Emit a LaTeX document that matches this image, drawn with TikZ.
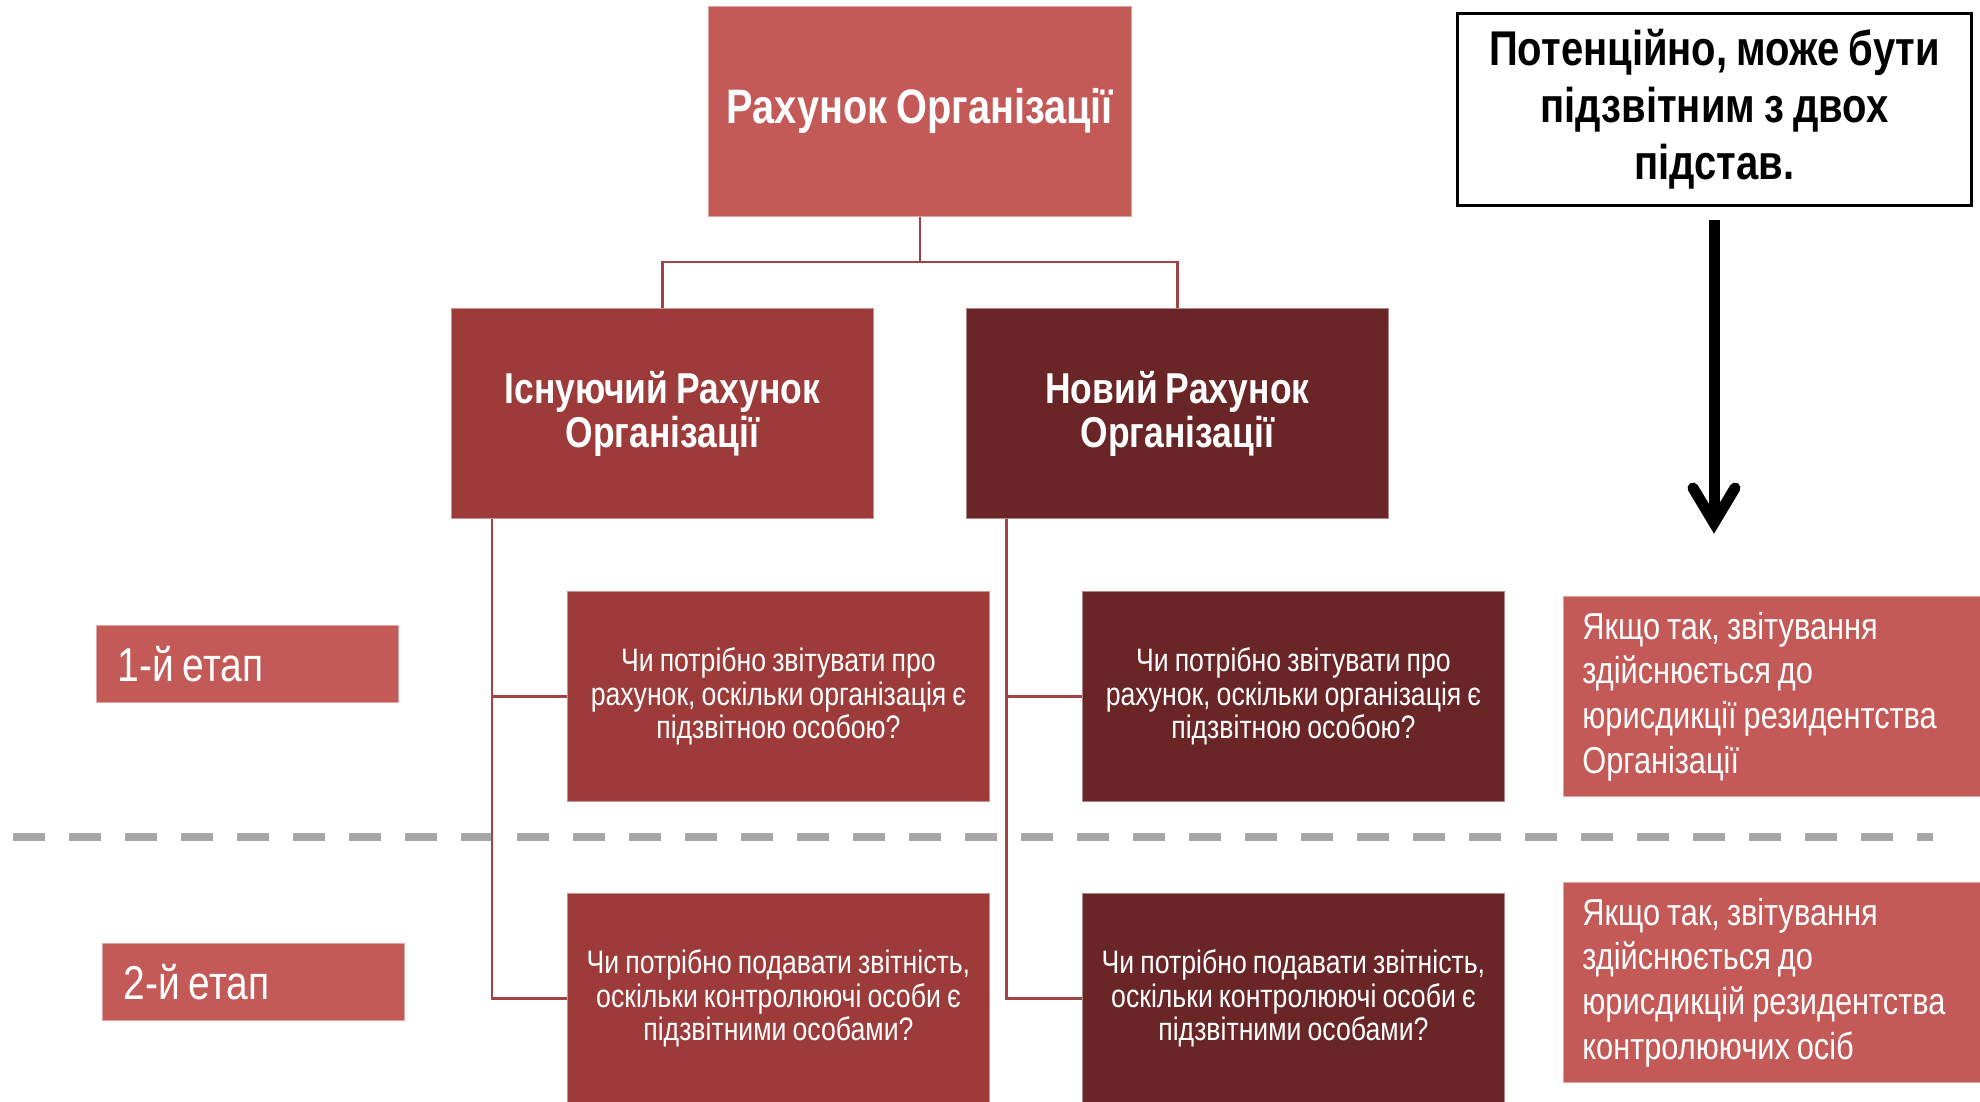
\documentclass[tikz,border=0pt]{standalone}
\usepackage{fontspec}
\setmainfont{Liberation Sans}[FakeStretch=0.82, WordSpace=0.82]
\definecolor{cTop}{HTML}{C45A57}
\definecolor{cMidL}{HTML}{9D3A3A}
\definecolor{cMidR}{HTML}{6A2526}
\definecolor{cLine}{HTML}{A04444}
\definecolor{cDash}{HTML}{A6A6A6}
\tikzset{
  box/.style={anchor=north west, inner sep=0pt, text=white, align=center,
    draw=#1!55!white, line width=0.8pt, fill=#1},
  bigbold/.style={font=\fontsize{48.4}{52}\selectfont\bfseries},
  midbold/.style={font=\fontsize{43.2}{44}\selectfont\bfseries},
  qtext/.style={font=\fontsize{32.5}{33.5}\selectfont},
  answer/.style={box=cTop, align=flush left, inner xsep=19pt, text width=382pt,
    minimum height=200pt, font=\fontsize{37.5}{44.6}\selectfont},
  stagebox/.style={box=cTop, align=flush left, inner xsep=21pt, text width=260pt,
    minimum height=77pt, font=\fontsize{47.5}{52}\selectfont},
  conn/.style={draw=cLine, line width=2.4pt},
}
\begin{document}
\begin{tikzpicture}[x=1pt,y=-1pt]
\useasboundingbox (0,0) rectangle (1980,1101);
\fill[white] (0,0) rectangle (1980,1101);

% dashed separator
\draw[cDash, line width=8pt, dash pattern=on 32pt off 24pt] (13.4,837) -- (1933,837);

% boxes
\node[box=cTop, bigbold, minimum width=423pt, minimum height=210pt] (top) at (708,6) {Рахунок Організації};
\node[box=cMidL, midbold, minimum width=422pt, minimum height=210pt] (L) at (451,308) {Існуючий Рахунок\\Організації};
\node[box=cMidR, midbold, minimum width=422pt, minimum height=210pt] (R) at (966,308) {Новий Рахунок\\Організації};
\node[box=cMidL, qtext, minimum width=422pt, minimum height=210pt] (q1) at (567,591) {Чи потрібно звітувати про\\рахунок, оскільки організація є\\підзвітною особою?};
\node[box=cMidR, qtext, minimum width=422pt, minimum height=210pt] (q2) at (1082,591) {Чи потрібно звітувати про\\рахунок, оскільки організація є\\підзвітною особою?};
\node[box=cMidL, qtext, minimum width=422pt, minimum height=210pt] (q3) at (567,893) {Чи потрібно подавати звітність,\\оскільки контролюючі особи є\\підзвітними особами?};
\node[box=cMidR, qtext, minimum width=422pt, minimum height=210pt] (q4) at (1082,893) {Чи потрібно подавати звітність,\\оскільки контролюючі особи є\\підзвітними особами?};

\node[stagebox] (s1) at (96,625) {1-й етап};
\node[stagebox] (s2) at (102,943) {2-й етап};

\node[answer] (a1) at (1563,596) {Якщо так, звітування\\здійснюється до\\юрисдикції резидентства\\Організації};
\node[answer] (a2) at (1563,882) {Якщо так, звітування\\здійснюється до\\юрисдикцій резидентства\\контролюючих осіб};

\node[anchor=north west, draw=black, line width=3pt, fill=white, inner sep=0pt,
  minimum width=514pt, minimum height=192pt, align=center,
  font=\fontsize{48.8}{57}\selectfont\bfseries] (note) at (1456,12)
  {Потенційно, може бути\\підзвітним з двох\\підстав.};

% connectors
\coordinate (hbar) at (0,262);
\coordinate (lx) at (492,0);
\coordinate (rx) at (1006.5,0);
\draw[conn] (top.south) -- (top.south |- hbar) -| (L.north);
\draw[conn] (top.south |- hbar) -| (R.north);
\draw[conn] (L.south -| lx) |- (q1.west);
\draw[conn] (L.south -| lx) |- (q3.west);
\draw[conn] (R.south -| rx) |- (q2.west);
\draw[conn] (R.south -| rx) |- (q4.west);

% arrow
\coordinate (arrS) at (1714,220);
\coordinate (arrT) at (1714,523);
\draw[line width=11pt] (arrS) -- (arrT);
\draw[line width=11pt, line cap=round, line join=miter, miter limit=10] ([xshift=-21pt,yshift=35pt]arrT) -- (arrT) -- ([xshift=21pt,yshift=35pt]arrT);
\end{tikzpicture}
\end{document}
